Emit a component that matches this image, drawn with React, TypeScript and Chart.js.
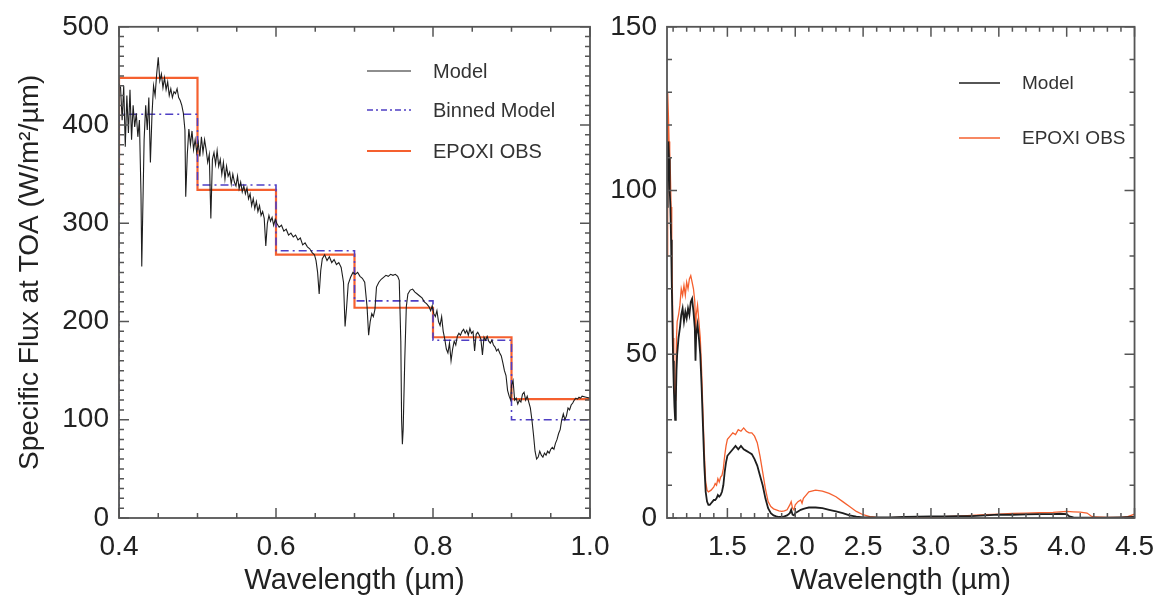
import React, { useEffect, useRef } from "react";
import { Chart, registerables } from "chart.js";

Chart.register(...registerables);

// ---------------- Left panel data (0.4 - 1.0 µm) ----------------
const VIS_MODEL_WL = [
  0.400, 0.402, 0.404, 0.406, 0.408, 0.410, 0.412, 0.414, 0.416, 0.418,
  0.420, 0.422, 0.424, 0.426, 0.428, 0.429, 0.430, 0.432, 0.434, 0.436,
  0.438, 0.440, 0.442, 0.444, 0.446, 0.448, 0.450, 0.452, 0.454, 0.456,
  0.458, 0.460, 0.462, 0.464, 0.466, 0.468, 0.470, 0.472, 0.474, 0.476,
  0.478, 0.480, 0.482, 0.484, 0.485, 0.487, 0.489, 0.491, 0.493, 0.495,
  0.497, 0.499, 0.501, 0.503, 0.505, 0.507, 0.509, 0.511, 0.513, 0.515,
  0.517, 0.519, 0.521, 0.523, 0.525, 0.527, 0.529, 0.531, 0.533, 0.535,
  0.537, 0.539, 0.541, 0.543, 0.545, 0.547, 0.549, 0.551, 0.553, 0.555,
  0.557, 0.559, 0.561, 0.563, 0.565, 0.567, 0.569, 0.571, 0.573, 0.575,
  0.577, 0.579, 0.581, 0.583, 0.585, 0.587, 0.589, 0.591, 0.593, 0.595,
  0.597, 0.599, 0.601, 0.604, 0.607, 0.610, 0.613, 0.616, 0.619, 0.622,
  0.625, 0.628, 0.631, 0.634, 0.637, 0.640, 0.643, 0.646, 0.649, 0.651,
  0.653, 0.655, 0.657, 0.659, 0.662, 0.665, 0.668, 0.671, 0.674, 0.677,
  0.680, 0.683, 0.686, 0.688, 0.690, 0.692, 0.695, 0.698, 0.701, 0.704,
  0.707, 0.710, 0.713, 0.716, 0.718, 0.720, 0.722, 0.724, 0.726, 0.728,
  0.731, 0.734, 0.737, 0.740, 0.743, 0.746, 0.749, 0.752, 0.755, 0.757,
  0.759, 0.760, 0.761, 0.762, 0.764, 0.766, 0.768, 0.771, 0.774, 0.777,
  0.780, 0.783, 0.786, 0.789, 0.792, 0.795, 0.797, 0.799, 0.801, 0.803,
  0.805, 0.807, 0.809, 0.811, 0.813, 0.815, 0.817, 0.819, 0.821, 0.823,
  0.825, 0.827, 0.829, 0.831, 0.833, 0.835, 0.837, 0.839, 0.841, 0.843,
  0.845, 0.847, 0.849, 0.851, 0.853, 0.855, 0.857, 0.859, 0.861, 0.863,
  0.865, 0.867, 0.869, 0.871, 0.873, 0.875, 0.877, 0.879, 0.881, 0.883,
  0.885, 0.887, 0.889, 0.891, 0.893, 0.895, 0.897, 0.899, 0.900, 0.902,
  0.904, 0.906, 0.908, 0.910, 0.912, 0.914, 0.916, 0.918, 0.920, 0.922,
  0.924, 0.926, 0.928, 0.930, 0.932, 0.934, 0.936, 0.938, 0.940, 0.942,
  0.944, 0.946, 0.948, 0.950, 0.952, 0.954, 0.956, 0.958, 0.960, 0.962,
  0.964, 0.966, 0.968, 0.970, 0.972, 0.974, 0.976, 0.978, 0.980, 0.982,
  0.984, 0.986, 0.988, 0.990, 0.995, 1.000,
];
const VIS_MODEL_FLUX = [
  442, 438, 405, 440, 378, 430, 392, 436, 385, 420,
  398, 412, 388, 405, 330, 256, 300, 385, 420, 395,
  428, 362, 410, 440, 430, 452, 469, 445, 452, 438,
  448, 436, 444, 430, 437, 428, 434, 432, 437, 428,
  425, 420, 412, 395, 327, 370, 396, 380, 394, 375,
  385, 372, 382, 368, 388, 372, 385, 375, 362, 370,
  305, 365, 372, 360, 374, 358, 365, 350, 362, 345,
  358, 348, 352, 340, 350, 342, 338, 348, 335, 342,
  332, 338, 330, 336, 325, 330, 318, 325, 315, 322,
  312, 318, 308, 312, 305, 277, 300, 308, 302, 306,
  298, 304, 300, 296, 298, 292, 294, 288, 290, 286,
  288, 283, 285, 278, 280, 276, 274, 270, 268, 262,
  250, 228, 252, 264, 268, 262, 266, 260, 263, 258,
  260, 255, 240, 195, 215, 238, 245, 250, 248, 250,
  246, 244, 240, 215, 186, 200, 208, 205, 212, 235,
  240, 243, 245, 247, 246, 248, 247, 248, 246, 242,
  180, 100, 75, 90, 160, 215, 228, 232, 233, 230,
  228, 226, 224, 220, 218, 215, 211, 216, 208, 205,
  211, 200, 196, 205, 190, 182, 172, 168, 178, 160,
  172, 180, 176, 185, 188, 186, 190, 192, 188, 191,
  186, 193, 188, 190, 170, 187, 189, 186, 182, 166,
  184, 181, 185, 180, 178, 181, 176, 174, 170, 172,
  168, 165, 158, 150, 145, 130, 124, 120, 135, 140,
  120, 122, 116, 120, 118, 126, 128, 120, 124, 118,
  112, 100, 85, 68, 60, 62, 68, 64, 62, 66,
  64, 68, 66, 70, 72, 70, 76, 80, 86, 90,
  100, 106, 100, 104, 112, 110, 115, 117, 120, 122,
  121, 123, 122, 124, 123, 122,
];

const BIN_EDGES = [0.4, 0.5, 0.6, 0.7, 0.8, 0.9, 1.0];
const BINNED_MODEL = [411, 339, 272, 221, 181, 100];
const BINNED_MODEL_START = 0;
const EPOXI_VIS = [448, 334, 268, 214, 184, 121];
const EPOXI_VIS_START = 317;

const VIS_X_TICKS = [0.4, 0.6, 0.8, 1.0];
const VIS_Y_TICKS = [0, 100, 200, 300, 400, 500];

// ---------------- Right panel data (1.05 - 4.5 µm) ----------------
const IR_MODEL_WL = [
  1.055, 1.060, 1.065, 1.070, 1.075, 1.080, 1.085, 1.090, 1.095, 1.100,
  1.105, 1.110, 1.115, 1.120, 1.125, 1.130, 1.140, 1.150, 1.160, 1.170,
  1.180, 1.190, 1.200, 1.210, 1.220, 1.230, 1.240, 1.250, 1.260, 1.265,
  1.270, 1.280, 1.290, 1.300, 1.310, 1.320, 1.330, 1.340, 1.350, 1.360,
  1.370, 1.380, 1.390, 1.400, 1.410, 1.420, 1.430, 1.440, 1.450, 1.460,
  1.470, 1.480, 1.490, 1.500, 1.520, 1.540, 1.560, 1.580, 1.600, 1.620,
  1.640, 1.660, 1.680, 1.700, 1.720, 1.740, 1.760, 1.780, 1.800, 1.820,
  1.840, 1.860, 1.880, 1.900, 1.920, 1.940, 1.960, 1.970, 1.980, 1.990,
  2.000, 2.020, 2.040, 2.060, 2.080, 2.100, 2.150, 2.200, 2.250, 2.300,
  2.350, 2.400, 2.450, 2.500, 2.600, 2.700, 2.800, 2.900, 3.000, 3.100,
  3.200, 3.300, 3.400, 3.500, 3.600, 3.700, 3.800, 3.900, 3.950, 4.000,
  4.020, 4.050, 4.100, 4.200, 4.300, 4.400, 4.500,
];
const IR_MODEL_FLUX = [
  95, 112, 115, 110, 100, 95, 85, 72, 60, 48,
  40, 34, 30, 36, 45, 50, 55, 58, 62, 64,
  60, 63, 61, 64, 62, 66, 67, 63, 58, 48,
  56, 59, 55, 50, 40, 28, 16, 8, 5, 4,
  4, 4.5, 5, 5.5, 5.5, 6, 7, 6.5, 7, 8,
  10, 14, 17, 19, 20, 21, 22, 21, 22, 21,
  20.5, 20, 19.5, 18, 16, 13, 10, 6, 3, 1.5,
  0.8, 0.5, 0.3, 0.3, 0.5, 0.8, 1.5, 2.5, 1, 0.8,
  1.5, 2, 2.5, 2.8, 3, 3.2, 3.2, 3, 2.5, 2,
  1.5, 0.8, 0.4, 0.2, 0.2, 0.2, 0.3, 0.4, 0.5, 0.5,
  0.6, 0.6, 0.8, 1.0, 1.0, 1.1, 1.2, 1.2, 1.3, 1.2,
  0.5, 0.2, 0.1, 0.1, 0.1, 0.2, 0.3,
];

const IR_EPOXI_WL = [
  1.055, 1.058, 1.062, 1.066, 1.070, 1.075, 1.080, 1.085, 1.090, 1.095,
  1.100, 1.105, 1.110, 1.115, 1.120, 1.125, 1.130, 1.140, 1.150, 1.160,
  1.170, 1.180, 1.190, 1.200, 1.210, 1.220, 1.230, 1.240, 1.250, 1.260,
  1.265, 1.270, 1.280, 1.290, 1.300, 1.310, 1.320, 1.330, 1.340, 1.350,
  1.360, 1.380, 1.400, 1.410, 1.420, 1.430, 1.440, 1.450, 1.460, 1.470,
  1.480, 1.490, 1.500, 1.520, 1.540, 1.560, 1.580, 1.600, 1.620, 1.640,
  1.660, 1.680, 1.700, 1.720, 1.740, 1.760, 1.780, 1.800, 1.820, 1.840,
  1.860, 1.880, 1.900, 1.920, 1.940, 1.960, 1.970, 1.980, 1.990, 2.000,
  2.020, 2.040, 2.050, 2.060, 2.080, 2.100, 2.150, 2.200, 2.250, 2.300,
  2.350, 2.400, 2.450, 2.500, 2.550, 2.600, 2.700, 2.800, 2.900, 3.000,
  3.100, 3.200, 3.300, 3.400, 3.500, 3.600, 3.700, 3.800, 3.900, 4.000,
  4.050, 4.100, 4.150, 4.180, 4.200, 4.300, 4.400, 4.450, 4.500,
];
const IR_EPOXI_FLUX = [
  80, 120, 130, 122, 115, 112, 105, 95, 82, 68,
  55, 45, 38, 36, 42, 55, 60, 62, 65, 70,
  68, 71, 68, 72, 70, 73, 74, 72, 70, 66,
  55, 62, 65, 60, 55, 45, 32, 20, 11, 8.5,
  8, 8.5, 9.5, 10.5, 10, 12, 11, 12.5, 13, 15,
  19, 22, 24, 25, 26, 25.5, 27, 26.5, 27.5, 26.5,
  26, 26, 25, 23, 19, 14, 9, 5, 3.5, 2.8,
  2.5, 2.2, 2, 2.2, 2.5, 4, 5, 3, 2.5, 4,
  5, 5.5, 4.5, 6, 7, 8, 8.5, 8.2, 7.5, 6.5,
  5, 3.5, 2, 1, 0.4, 0.2, 0.1, 0.2, 0.2, 0.3,
  0.4, 0.6, 0.8, 1.0, 1.2, 1.4, 1.5, 1.6, 1.7, 2.0,
  1.9, 1.8, 1.5, 0.6, 0.3, 0.2, 0.2, 0.4, 1.2,
];

const IR_X_TICKS = [1.5, 2.0, 2.5, 3.0, 3.5, 4.0, 4.5];
const IR_Y_TICKS = [0, 50, 100, 150];

// ---------------- Styling ----------------
const FONT = '"Liberation Sans", Arial, Helvetica, sans-serif';
const TEXT = "#222222";
const FRAME = "#555555";
const C_MODEL = "#1e1e1e";
const C_BINNED = "#4f3fc4";
const C_EPOXI = "#f5602f";

const pairs = (xs: number[], ys: number[]) => xs.map((x, i) => ({ x, y: ys[i] }));
const stepPoints = (edges: number[], vals: number[], start: number) => {
  const pts = [{ x: edges[0], y: start }];
  vals.forEach((v, i) => {
    pts.push({ x: edges[i], y: v });
    pts.push({ x: edges[i + 1], y: v });
  });
  return pts;
};
const range = (a: number, b: number, s: number) => {
  const out: number[] = [];
  const n = Math.round((b - a) / s);
  for (let i = 0; i <= n; i++) out.push(a + i * s);
  return out;
};

const framePlugin = {
  id: "frameTicks",
  afterDatasetsDraw(chart: any, _args: any, opts: any) {
    const { ctx, chartArea } = chart;
    const { left, right, top, bottom } = chartArea;
    const xs = chart.scales.x;
    const ys = chart.scales.y;
    ctx.save();
    ctx.strokeStyle = FRAME;
    ctx.lineWidth = 1.5;
    ctx.beginPath();
    const seg = (x1: number, y1: number, x2: number, y2: number) => {
      ctx.moveTo(x1, y1);
      ctx.lineTo(x2, y2);
    };
    const xMinor = range(opts.xMinorStart, opts.xMinorEnd, opts.xMinorStep);
    xMinor.forEach((v: number) => {
      if (v < xs.min - 1e-9 || v > xs.max + 1e-9) return;
      const px = xs.getPixelForValue(v);
      const major = opts.xMajor.some((m: number) => Math.abs(m - v) < 1e-6);
      const len = major ? 10 : 5;
      seg(px, bottom, px, bottom - len);
      seg(px, top, px, top + len);
    });
    const yMinor = range(opts.yMinorStart, opts.yMinorEnd, opts.yMinorStep);
    yMinor.forEach((v: number) => {
      const py = ys.getPixelForValue(v);
      const major = opts.yMajor.some((m: number) => Math.abs(m - v) < 1e-6);
      const len = major ? 10 : 5;
      seg(left, py, left + len, py);
      seg(right, py, right - len, py);
    });
    ctx.stroke();
    ctx.lineWidth = 1.8;
    ctx.strokeRect(left, top, right - left, bottom - top);
    ctx.restore();
  },
};

const legendPlugin = {
  id: "innerLegend",
  afterDraw(chart: any, _args: any, opts: any) {
    const { ctx } = chart;
    ctx.save();
    ctx.font = `${opts.fontSize}px ${FONT}`;
    ctx.textBaseline = "middle";
    ctx.textAlign = "left";
    opts.items.forEach((it: any) => {
      ctx.strokeStyle = it.color;
      ctx.lineWidth = it.width;
      ctx.setLineDash(it.dash || []);
      ctx.beginPath();
      ctx.moveTo(opts.lineX0, it.y);
      ctx.lineTo(opts.lineX1, it.y);
      ctx.stroke();
      ctx.setLineDash([]);
      ctx.fillStyle = "#333333";
      ctx.fillText(it.label, opts.textX, it.y + 1);
    });
    ctx.restore();
  },
};

const tickFont = { family: FONT, size: 28 };
const titleFont = { family: FONT, size: 29 };

function makeScales(cfg: any) {
  return {
    x: {
      type: "linear",
      min: cfg.xMin,
      max: cfg.xMax,
      afterBuildTicks: (s: any) => {
        s.ticks = cfg.xTicks.map((v: number) => ({ value: v }));
      },
      afterFit: (s: any) => {
        s.height = 80;
      },
      grid: { display: false, drawTicks: false },
      border: { display: false },
      ticks: {
        autoSkip: false,
        maxRotation: 0,
        padding: 12,
        color: TEXT,
        font: tickFont,
        callback: (v: any) => Number(v).toFixed(1),
      },
      title: {
        display: true,
        text: "Wavelength (\u00b5m)",
        color: TEXT,
        font: titleFont,
        padding: { top: 0, bottom: 0 },
      },
    },
    y: {
      type: "linear",
      min: cfg.yMin,
      max: cfg.yMax,
      afterBuildTicks: (s: any) => {
        s.ticks = cfg.yTicks.map((v: number) => ({ value: v }));
      },
      afterFit: (s: any) => {
        s.width = cfg.yWidth;
      },
      grid: { display: false, drawTicks: false },
      border: { display: false },
      ticks: {
        autoSkip: false,
        padding: 10,
        color: TEXT,
        font: tickFont,
        callback: (v: any) => String(Math.round(Number(v))),
      },
      title: {
        display: !!cfg.yTitle,
        text: cfg.yTitle || "",
        color: TEXT,
        font: { family: FONT, size: 28 },
        padding: { top: 13, bottom: 0 },
      },
    },
  };
}

function VisPanel() {
  const ref = useRef<HTMLCanvasElement | null>(null);
  useEffect(() => {
    const chart = new Chart(ref.current as HTMLCanvasElement, {
      type: "line",
      data: {
        datasets: [
          {
            label: "Model",
            data: pairs(VIS_MODEL_WL, VIS_MODEL_FLUX),
            borderColor: C_MODEL,
            borderWidth: 1.1,
            pointRadius: 0,
            tension: 0,
          },
          {
            label: "Binned Model",
            data: stepPoints(BIN_EDGES, BINNED_MODEL, BINNED_MODEL_START),
            borderColor: C_BINNED,
            borderWidth: 1.6,
            borderDash: [8, 4, 2, 4],
            pointRadius: 0,
            tension: 0,
          },
          {
            label: "EPOXI OBS",
            data: stepPoints(BIN_EDGES, EPOXI_VIS, EPOXI_VIS_START),
            borderColor: C_EPOXI,
            borderWidth: 2.2,
            pointRadius: 0,
            tension: 0,
          },
        ],
      } as any,
      options: {
        responsive: false,
        animation: false,
        devicePixelRatio: 1,
        layout: { padding: { top: 16, right: 50, bottom: 0, left: 0 } },
        plugins: {
          legend: { display: false },
          tooltip: { enabled: false },
          frameTicks: {
            xMinorStart: 0.4, xMinorEnd: 1.0, xMinorStep: 0.05, xMajor: VIS_X_TICKS,
            yMinorStart: 0, yMinorEnd: 500, yMinorStep: 10, yMajor: VIS_Y_TICKS,
          },
          innerLegend: {
            fontSize: 20,
            lineX0: 367,
            lineX1: 411,
            textX: 433,
            items: [
              { label: "Model", color: C_MODEL, width: 1.2, y: 71 },
              { label: "Binned Model", color: C_BINNED, width: 1.6, dash: [6, 3, 2, 3], y: 110 },
              { label: "EPOXI OBS", color: C_EPOXI, width: 2, y: 151 },
            ],
          },
        } as any,
        scales: makeScales({
          xMin: 0.4, xMax: 1.0, xTicks: VIS_X_TICKS,
          yMin: 0, yMax: 500, yTicks: VIS_Y_TICKS, yWidth: 119,
          yTitle: "Specific Flux at TOA (W/m\u00b2/\u00b5m)",
        }) as any,
      },
      plugins: [framePlugin, legendPlugin],
    });
    return () => chart.destroy();
  }, []);
  return (
    <canvas
      ref={ref}
      width={640}
      height={598}
      style={{ position: "absolute", left: 0, top: 0, width: 640, height: 598 }}
    />
  );
}

function IrPanel() {
  const ref = useRef<HTMLCanvasElement | null>(null);
  useEffect(() => {
    const chart = new Chart(ref.current as HTMLCanvasElement, {
      type: "line",
      data: {
        datasets: [
          {
            label: "Model",
            data: pairs(IR_MODEL_WL, IR_MODEL_FLUX),
            borderColor: C_MODEL,
            borderWidth: 1.8,
            pointRadius: 0,
            tension: 0,
          },
          {
            label: "EPOXI OBS",
            data: pairs(IR_EPOXI_WL, IR_EPOXI_FLUX),
            borderColor: C_EPOXI,
            borderWidth: 1.3,
            pointRadius: 0,
            tension: 0,
          },
        ],
      } as any,
      options: {
        responsive: false,
        animation: false,
        devicePixelRatio: 1,
        layout: { padding: { top: 16, right: 28, bottom: 0, left: 0 } },
        plugins: {
          legend: { display: false },
          tooltip: { enabled: false },
          frameTicks: {
            xMinorStart: 1.1, xMinorEnd: 4.5, xMinorStep: 0.1, xMajor: IR_X_TICKS,
            yMinorStart: 0, yMinorEnd: 150, yMinorStep: 10, yMajor: IR_Y_TICKS,
          },
          innerLegend: {
            fontSize: 19,
            lineX0: 379,
            lineX1: 420,
            textX: 442,
            items: [
              { label: "Model", color: C_MODEL, width: 1.4, y: 83 },
              { label: "EPOXI OBS", color: C_EPOXI, width: 1.4, y: 138 },
            ],
          },
        } as any,
        scales: makeScales({
          xMin: 1.055, xMax: 4.5, xTicks: IR_X_TICKS,
          yMin: 0, yMax: 150, yTicks: IR_Y_TICKS, yWidth: 87,
          yTitle: "",
        }) as any,
      },
      plugins: [framePlugin, legendPlugin],
    });
    return () => chart.destroy();
  }, []);
  return (
    <canvas
      ref={ref}
      width={586}
      height={598}
      style={{ position: "absolute", left: 580, top: 0, width: 586, height: 598 }}
    />
  );
}

export default function App() {
  return (
    <div style={{ position: "absolute", left: 0, top: 0, width: 1166, height: 598, background: "#ffffff" }}>
      <VisPanel />
      <IrPanel />
    </div>
  );
}
